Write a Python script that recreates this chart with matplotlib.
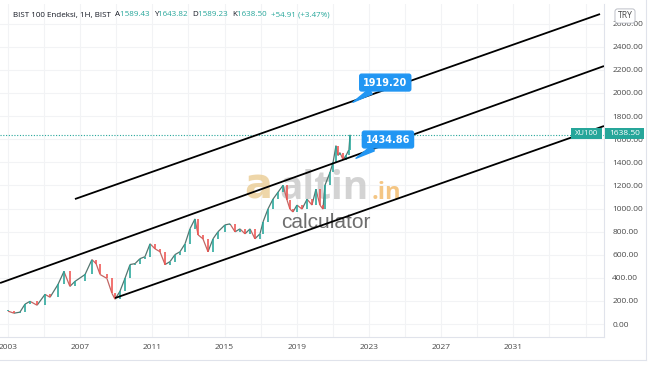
import matplotlib
matplotlib.use('Agg')
import matplotlib.pyplot as plt
from matplotlib.patches import Rectangle
from matplotlib.collections import LineCollection

# price path (decimal year, close)
years = [2003.00, 2003.33, 2003.66, 2003.94, 2004.22, 2004.61, 2005.05, 2005.33, 2005.77, 2006.10,
         2006.43, 2006.71, 2007.27, 2007.65, 2007.88, 2008.10, 2008.48, 2008.76, 2008.93, 2009.20,
         2009.48, 2009.76, 2010.04, 2010.31, 2010.59, 2010.87, 2011.14, 2011.42, 2011.70, 2011.98,
         2012.25, 2012.53, 2012.81, 2013.08, 2013.36, 2013.53, 2013.80, 2014.08, 2014.36, 2014.63,
         2015.02, 2015.30, 2015.58, 2015.85, 2016.13, 2016.41, 2016.68, 2016.96, 2017.13, 2017.40,
         2017.68, 2017.96, 2018.24, 2018.46, 2018.62, 2018.79, 2019.01, 2019.29, 2019.57, 2019.84,
         2020.06, 2020.28, 2020.45, 2020.56, 2020.84, 2021.01, 2021.17, 2021.28, 2021.39, 2021.56,
         2021.73, 2021.89, 2021.95]
closes = [112, 94, 103, 172, 197, 163, 257, 232, 343, 455,
          326, 369, 429, 558, 523, 429, 395, 266, 215, 283,
          395, 515, 523, 566, 583, 695, 652, 626, 515, 541,
          601, 626, 695, 824, 910, 772, 738, 626, 738, 798,
          858, 867, 798, 824, 781, 824, 738, 781, 884, 995,
          1081, 1141, 1201, 1073, 995, 970, 1030, 995, 1081, 1030,
          1167, 1030, 995, 1201, 1313, 1399, 1544, 1459, 1484, 1424,
          1459, 1510, 1638.5]

# parallel channel (start, end)
upper_x, upper_y = [2006.71, 2035.80], [1082, 2683]
middle_x, middle_y = [2002.56, 2036.02], [355, 2233]
lower_x, lower_y = [2008.93, 2036.02], [225, 1714]

callouts = [('1919.20', 2022.11, 1919.2, 2023.90, 2090),
            ('1434.86', 2022.28, 1434.86, 2024.05, 1597)]

y_ticks = list(range(0, 2800, 200))
x_ticks = list(range(2003, 2035, 4))

last_price = 1638.50
header = [('BIST 100 Endeksi, 1H, BIST  ', 'dark'), ('A', 'dark'), ('1589.43  ', 'up'),
          ('Y', 'dark'), ('1643.82  ', 'up'), ('D', 'dark'), ('1589.23  ', 'up'),
          ('K', 'dark'), ('1638.50  ', 'up'), ('+54.91 (+3.47%)', 'up')]

UP = '#26a69a'
DOWN = '#ef5350'
BLUE = '#2196f3'
GRID = '#f2f3f5'
TXT = '#4a4a4a'

W, H = 654, 366
fig = plt.figure(figsize=(W / 100, H / 100), dpi=100)
fig.patch.set_facecolor('white')
ax = fig.add_axes([0, 1 - 337 / H, 604 / W, 333 / H])
ax.set_xlim(2002.557, 2036.02)
ax.set_ylim(-112, 2770)
for s in ax.spines.values():
    s.set_visible(False)
for side in ['right', 'bottom']:
    ax.spines[side].set_visible(True)
    ax.spines[side].set_color('#e0e3eb')

# grid
for v in y_ticks:
    ax.axhline(v, color=GRID, lw=0.8, zorder=0)
for yr in range(2003, 2036, 2):
    ax.axvline(yr, color=GRID, lw=0.8, zorder=0)

# price: segments coloured by direction plus thin candle bodies
segs, cols = [], []
for i in range(1, len(years)):
    segs.append([(years[i - 1], closes[i - 1]), (years[i], closes[i])])
    cols.append('#55756f' if closes[i] >= closes[i - 1] else '#c26664')
ax.add_collection(LineCollection(segs, colors=cols, linewidths=0.9, zorder=3))
opens = [closes[0]] + closes[:-1]
for x, o, c in zip(years, opens, closes):
    col = UP if c >= o else DOWN
    ax.bar(x, max(abs(c - o), 6), bottom=min(o, c), width=0.07, color=col, lw=0, zorder=3, alpha=0.8)

# channel
for xs, ys in [(upper_x, upper_y), (middle_x, middle_y), (lower_x, lower_y)]:
    ax.plot(xs, ys, color='black', lw=1.3, zorder=4, solid_capstyle='butt')

# last price line
ax.axhline(last_price, color=UP, lw=0.8, ls=(0, (1, 1.5)), zorder=2)

# callouts
for label, px, py, tx, ty in callouts:
    ax.annotate(label, xy=(px, py), xytext=(tx, ty), ha='center', va='center',
                fontsize=7, fontweight='bold', color='white', zorder=6,
                bbox=dict(boxstyle='round,pad=0.35,rounding_size=0.2', fc=BLUE, ec=BLUE),
                arrowprops=dict(arrowstyle='wedge,tail_width=0.6', fc=BLUE, ec=BLUE,
                                shrinkA=0, shrinkB=0))

# watermark
ax.text(0.428, 0.415, 'a', transform=ax.transAxes, fontsize=30, fontweight='bold',
        color='#e9c98c', alpha=0.75, ha='center', va='baseline', zorder=1)
ax.text(0.462, 0.415, 'altin', transform=ax.transAxes, fontsize=28, fontweight='bold',
        color='#c9c9c9', alpha=0.8, ha='left', va='baseline', zorder=1, family='Open Sans')
ax.text(0.615, 0.415, '.in', transform=ax.transAxes, fontsize=17, fontweight='bold',
        color='#f2b866', alpha=0.8, ha='left', va='baseline', zorder=1, family='Open Sans')
ax.text(0.466, 0.345, 'calculator', transform=ax.transAxes, fontsize=15,
        color='#555555', alpha=0.85, ha='left', va='center', zorder=1, family='Liberation Sans')

# axes ticks
ax.yaxis.tick_right()
ax.set_yticks(y_ticks)
ax.set_yticklabels([f'{v:.2f}' for v in y_ticks], fontsize=6, color=TXT, family='Open Sans')
ax.set_xticks(x_ticks)
ax.set_xticklabels([str(v) for v in x_ticks], fontsize=6, color=TXT, family='Open Sans')
ax.tick_params(length=0, pad=5)
ax.tick_params(axis='y', pad=6)

# price label boxes
fig.patches.append(Rectangle((571 / W, 1 - 139 / H), 31 / W, 11 / H, transform=fig.transFigure,
                             fc=UP, ec='none', zorder=5))
fig.patches.append(Rectangle((605 / W, 1 - 139 / H), 39 / W, 11 / H, transform=fig.transFigure,
                             fc=UP, ec='none', zorder=5))
fig.text(586.5 / W, 1 - 133.5 / H, 'XU100', fontsize=5.5, color='white', ha='center', va='center',
         family='Open Sans', zorder=6)
fig.text(624.5 / W, 1 - 133.5 / H, f'{last_price:.2f}', fontsize=6, color='white', ha='center',
         va='center', family='Open Sans', zorder=6)

# TRY box
fig.text(625 / W, 1 - 16 / H, 'TRY', fontsize=6.2, color=TXT, ha='center', va='center', family='Open Sans',
         bbox=dict(boxstyle='round,pad=0.3', fc='white', ec='#b2b5be', lw=0.6), zorder=7)

# frame lines
fig.add_artist(plt.Line2D([0, 646 / W], [1 - 360 / H] * 2, color='#e0e3eb', lw=0.8))
fig.add_artist(plt.Line2D([646 / W] * 2, [1 - 360 / H, 1], color='#e0e3eb', lw=0.8))

# header, pieces laid end to end
renderer = fig.canvas.get_renderer()
hx = 13
for part, kind in header:
    t = fig.text(hx / W, 1 - 15 / H, part, fontsize=5.8, va='center', family='Open Sans',
                 color='#131722' if kind == 'dark' else UP)
    hx = t.get_window_extent(renderer).x1

fig.savefig('out.png', dpi=100)
